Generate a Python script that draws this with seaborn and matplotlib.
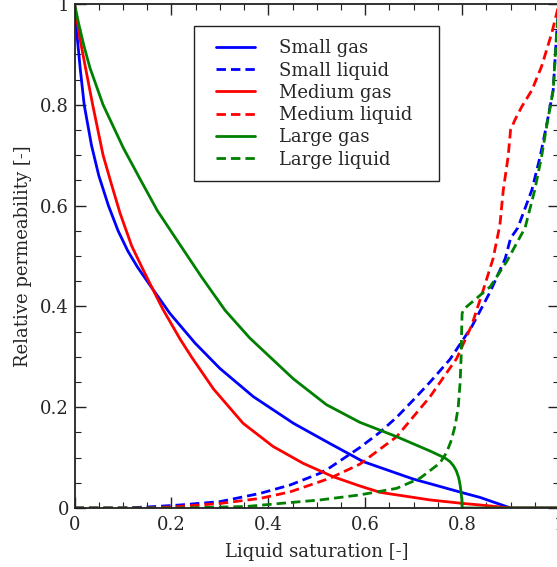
import numpy as np
import pandas as pd
import matplotlib
matplotlib.use("Agg")
import matplotlib.pyplot as plt
from matplotlib.patches import Rectangle
import seaborn as sns

# Relative permeability curves (gas / liquid) for three pore sizes
small_gas_s = [0, 0.006, 0.012, 0.02, 0.035, 0.05, 0.07, 0.09, 0.11, 0.13, 0.158, 0.197, 0.249,
               0.300, 0.369, 0.452, 0.527, 0.596, 0.699, 0.802, 0.837, 0.9, 1.0]
small_gas_k = [1, 0.93, 0.87, 0.80, 0.72, 0.66, 0.60, 0.55, 0.51, 0.478, 0.439, 0.386, 0.327,
               0.277, 0.221, 0.168, 0.128, 0.092, 0.0575, 0.030, 0.021, 0.0, 0.0]

small_liq_s = [0, 0.10, 0.15, 0.218, 0.300, 0.383, 0.445, 0.507, 0.527, 0.589, 0.63, 0.665, 0.70,
               0.734, 0.775, 0.820, 0.858, 0.889, 0.900, 0.915, 0.944, 0.961, 0.975, 0.988, 0.995, 1.0]
small_liq_k = [0, 0.0, 0.002, 0.006, 0.0126, 0.029, 0.0456, 0.069, 0.080, 0.12, 0.15, 0.18, 0.215,
               0.25, 0.295, 0.36, 0.429, 0.495, 0.535, 0.556, 0.631, 0.697, 0.763, 0.829, 0.94, 1.0]

medium_gas_s = [0, 0.011, 0.0375, 0.059, 0.077, 0.094, 0.118, 0.14, 0.158, 0.182, 0.218, 0.242,
                0.287, 0.348, 0.410, 0.472, 0.534, 0.589, 0.631, 0.734, 0.802, 0.837, 0.9, 1.0]
medium_gas_k = [1, 0.932, 0.80, 0.70, 0.640, 0.585, 0.52, 0.476, 0.441, 0.395, 0.335, 0.299,
                0.236, 0.168, 0.122, 0.0886, 0.062, 0.0437, 0.031, 0.016, 0.009, 0.006, 0.0, 0.0]

medium_liq_s = [0, 0.15, 0.218, 0.300, 0.383, 0.445, 0.527, 0.589, 0.665, 0.734, 0.789, 0.820,
                0.8425, 0.864, 0.878, 0.885, 0.895, 0.900, 0.909, 0.923, 0.944, 0.964, 0.985, 1.0]
medium_liq_k = [0, 0.0, 0.003, 0.009, 0.019, 0.032, 0.059, 0.087, 0.1415, 0.221, 0.297, 0.363,
                0.429, 0.495, 0.5615, 0.631, 0.697, 0.750, 0.770, 0.796, 0.829, 0.876, 0.942, 1.0]

large_gas_s = [0, 0.01, 0.02, 0.032, 0.059, 0.101, 0.138, 0.171, 0.218, 0.2625, 0.311, 0.362,
               0.452, 0.520, 0.589, 0.665, 0.734, 0.765, 0.775, 0.782, 0.788, 0.793, 0.796,
               0.798, 0.7995, 0.8, 1.0]
large_gas_k = [1, 0.955, 0.915, 0.873, 0.80, 0.714, 0.648, 0.59, 0.522, 0.458, 0.392, 0.337,
               0.256, 0.205, 0.170, 0.1415, 0.113, 0.099, 0.092, 0.084, 0.074, 0.060, 0.045,
               0.03, 0.015, 0.0, 0.0]

large_liq_s = [0, 0.218, 0.355, 0.424, 0.507, 0.589, 0.665, 0.713, 0.754, 0.768, 0.778, 0.786,
               0.792, 0.796, 0.798, 0.799, 0.800, 0.803, 0.810, 0.858, 0.892, 0.930, 0.950, 0.964,
               0.975, 0.988, 0.995, 1.0]
large_liq_k = [0, 0.0, 0.003, 0.009, 0.016, 0.026, 0.039, 0.059, 0.089, 0.11, 0.135, 0.165,
               0.20, 0.25, 0.30, 0.35, 0.386, 0.394, 0.400, 0.439, 0.489, 0.556, 0.631, 0.697,
               0.760, 0.829, 0.94, 1.0]

series_names = ["Small gas", "Small liquid", "Medium gas", "Medium liquid", "Large gas", "Large liquid"]
series_s = [small_gas_s, small_liq_s, medium_gas_s, medium_liq_s, large_gas_s, large_liq_s]
series_k = [small_gas_k, small_liq_k, medium_gas_k, medium_liq_k, large_gas_k, large_liq_k]
series_colors = ["#0000ff", "#0000ff", "#ff0000", "#ff0000", "#008000", "#008000"]
series_dashed = [False, True, False, True, False, True]

x_ticks = [0, 0.2, 0.4, 0.6, 0.8, 1.0]
x_tick_labels = ["0", "0.2", "0.4", "0.6", "0.8", "1"]
y_ticks = [0, 0.2, 0.4, 0.6, 0.8, 1.0]
y_tick_labels = ["0", "0.2", "0.4", "0.6", "0.8", "1"]

df = pd.concat(
    [pd.DataFrame({"saturation": s, "kr": k, "series": n})
     for n, s, k in zip(series_names, series_s, series_k)],
    ignore_index=True,
)

sns.set_style("ticks")
plt.rcParams["font.family"] = ["DejaVu Serif"]
plt.rcParams["mathtext.fontset"] = "dejavuserif"

fig = plt.figure(figsize=(5.57, 5.67), dpi=100)
ax = fig.add_axes([74.5 / 557, 59 / 567, 484.5 / 557, 504 / 567])

lw = 2.0
for name, color, dashed in zip(series_names, series_colors, series_dashed):
    sub = df[df["series"] == name]
    kw = dict(dashes=(3.4, 1.8)) if dashed else dict(linestyle="-")
    sns.lineplot(data=sub, x="saturation", y="kr", color=color, linewidth=lw,
                 sort=False, estimator=None, label=name, ax=ax, **kw)

ax.set_xlim(0, 1)
ax.set_ylim(0, 1)
ax.set_xticks(x_ticks)
ax.set_xticklabels(x_tick_labels)
ax.set_yticks(y_ticks)
ax.set_yticklabels(y_tick_labels)
ax.set_xticks(np.arange(0, 1.0001, 0.05), minor=True)
ax.set_yticks(np.arange(0, 1.0001, 0.05), minor=True)
ax.tick_params(which="both", direction="in", top=True, right=True, color="#222222")
ax.tick_params(which="major", length=8, width=1.0, labelsize=13)
ax.tick_params(which="minor", length=4, width=0.8)
ax.tick_params(axis="x", which="major", pad=6)
ax.tick_params(axis="y", which="major", pad=4)
for sp in ax.spines.values():
    sp.set_linewidth(1.3)
    sp.set_color("#222222")

ax.set_xlabel("Liquid saturation [-]", fontsize=13, labelpad=6)
ax.set_ylabel("Relative permeability [-]", fontsize=13, labelpad=5.5)

# legend entries without their own frame; the box is drawn separately
leg = ax.legend(loc="upper left", bbox_to_anchor=(0.2652, 0.955), fontsize=13,
                frameon=False, borderpad=0.7, labelspacing=0.235, handlelength=2.2,
                handletextpad=1.32, borderaxespad=0)
box = Rectangle((0.2466, 0.6488), 0.7523 - 0.2466, 0.9563 - 0.6488, transform=ax.transAxes,
                facecolor="white", edgecolor="#222222", linewidth=1.0, zorder=4.9)
ax.add_patch(box)
leg.set_zorder(5)

fig.savefig("out.png", dpi=100)
